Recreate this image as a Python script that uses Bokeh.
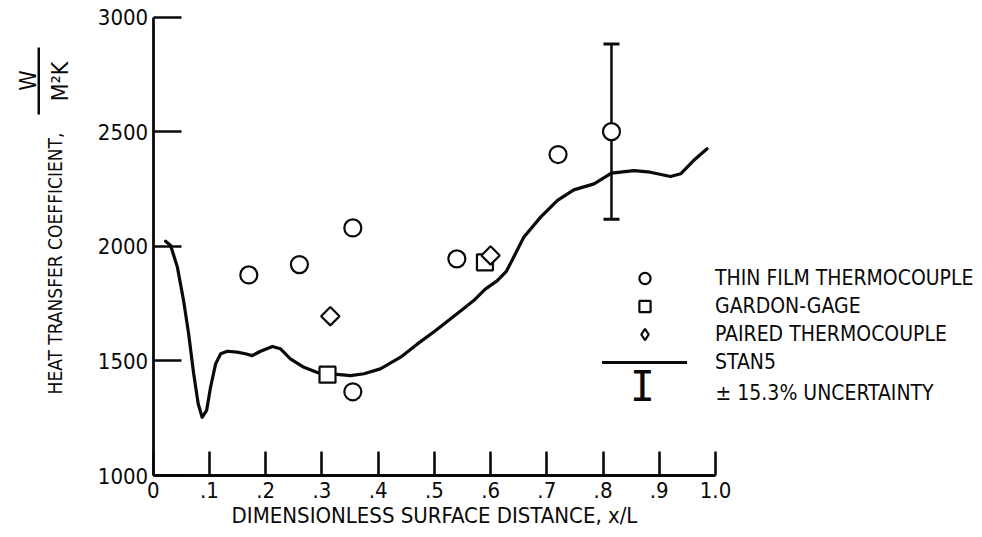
import math

from bokeh.embed import file_html
from bokeh.models import (ColumnDataSource, FixedTicker, Label, Legend, LegendItem,
                          PolyAnnotation, Range1d, TeeHead, Whisker)
from bokeh.plotting import figure
from bokeh.resources import INLINE

# --- data -------------------------------------------------------------------
# STAN5 prediction along the surface
x_stan5 = [0.022, 0.031, 0.043, 0.054, 0.063, 0.072, 0.080, 0.087, 0.095, 0.102,
           0.111, 0.120, 0.132, 0.149, 0.164, 0.176, 0.191, 0.212, 0.226, 0.244,
           0.268, 0.292, 0.309, 0.327, 0.351, 0.375, 0.404, 0.440, 0.470, 0.500,
           0.529, 0.550, 0.570, 0.590, 0.612, 0.628, 0.641, 0.659, 0.689, 0.719,
           0.748, 0.784, 0.815, 0.855, 0.884, 0.920, 0.938, 0.961, 0.985]
h_stan5 = [2022, 2003, 1909, 1763, 1618, 1444, 1313, 1254, 1284, 1385,
           1487, 1531, 1542, 1538, 1531, 1523, 1542, 1563, 1553, 1509,
           1472, 1449, 1444, 1441, 1436, 1444, 1465, 1516, 1574, 1628,
           1684, 1724, 1763, 1812, 1850, 1890, 1952, 2039, 2127, 2200,
           2246, 2272, 2319, 2330, 2323, 2304, 2316, 2374, 2425]

# measurements
x_thin_film = [0.17, 0.26, 0.355, 0.355, 0.54, 0.72, 0.815]
h_thin_film = [1875, 1920, 2080, 1365, 1945, 2400, 2500]

x_gardon = [0.31, 0.59]
h_gardon = [1440, 1930]

x_paired = [0.315, 0.60]
h_paired = [1695, 1960]

# uncertainty bar on one thin-film reading
x_unc = [0.815]
h_unc = [2500]
unc_pct = 15.3

x_ticks = [0, 0.1, 0.2, 0.3, 0.4, 0.5, 0.6, 0.7, 0.8, 0.9, 1.0]
x_tick_labels = ["0", ".1", ".2", ".3", ".4", ".5", ".6", ".7", ".8", ".9", "1.0"]
y_ticks = [1000, 1500, 2000, 2500, 3000]

# --- canvas geometry ------------------------------------------------------------
W, H = 982, 537
ORIGIN_X, ORIGIN_Y = 152.7, 475.0      # canvas px of (0, 1000)
PX_PER_X = 562.3                        # px per unit x/L
PX_PER_Y = (475.0 - 16.5) / 2000.0      # px per W/m^2K

FONT = "DejaVu Sans Condensed"
INK = "#0a0a0a"

# the frame spans the whole canvas; the axes sit at fixed data locations
x_range = Range1d(-ORIGIN_X / PX_PER_X, (W - ORIGIN_X) / PX_PER_X)
y_range = Range1d(1000 - (H - ORIGIN_Y) / PX_PER_Y, 1000 + ORIGIN_Y / PX_PER_Y)

p = figure(width=W, height=H, output_backend="svg", toolbar_location=None,
           x_range=x_range, y_range=y_range,
           min_border=0, min_border_left=0, min_border_right=0,
           min_border_top=0, min_border_bottom=0)
p.outline_line_color = None
p.grid.visible = False
p.background_fill_color = "white"
p.border_fill_color = "white"

for ax in (p.xaxis[0], p.yaxis[0]):
    ax.axis_line_color = INK
    ax.axis_line_width = 2.8
    ax.major_tick_line_color = INK
    ax.major_tick_line_width = 2.6
    ax.major_tick_out = 0
    ax.minor_tick_in = 0
    ax.minor_tick_out = 0
    ax.major_label_text_font = FONT
    ax.major_label_text_font_size = "22px"
    ax.major_label_text_color = INK

xa = p.xaxis[0]
xa.fixed_location = 1000
xa.bounds = (0, 1.0)
xa.ticker = FixedTicker(ticks=x_ticks)
xa.major_label_overrides = {t: lab for t, lab in zip(x_ticks, x_tick_labels)}
xa.major_tick_in = 24
xa.major_label_standoff = 6
xa.axis_label = "DIMENSIONLESS SURFACE DISTANCE, x/L"
xa.axis_label_text_font = FONT
xa.axis_label_text_font_size = "22px"
xa.axis_label_text_font_style = "normal"
xa.axis_label_text_color = INK
xa.axis_label_standoff = 2

ya = p.yaxis[0]
ya.fixed_location = 0
ya.bounds = (1000, 3000)
ya.ticker = FixedTicker(ticks=y_ticks)
ya.major_tick_in = 28
ya.major_label_standoff = 5

# --- uncertainty bar ----------------------------------------------------------
unc_src = ColumnDataSource(data=dict(
    x=x_unc,
    upper=[h * (1 + unc_pct / 100) for h in h_unc],
    lower=[h * (1 - unc_pct / 100) for h in h_unc],
))
whisker = Whisker(source=unc_src, base="x", upper="upper", lower="lower",
                  dimension="height", line_color=INK, line_width=2.5, level="underlay",
                  upper_head=TeeHead(size=16, line_color=INK, line_width=3),
                  lower_head=TeeHead(size=16, line_color=INK, line_width=3))
p.add_layout(whisker)

# --- STAN5 curve and measurements --------------------------------------------
r_stan5 = p.line(x_stan5, h_stan5, line_color=INK, line_width=3.2,
                 line_join="round", line_cap="round")
r_thin = p.scatter(x_thin_film, h_thin_film, marker="circle", size=17,
                   fill_color="white", line_color=INK, line_width=2.2)
r_gardon = p.scatter(x_gardon, h_gardon, marker="square", size=16,
                     fill_color="white", line_color=INK, line_width=2.2)
# paired-thermocouple readings: squares turned on their corner
r_paired = p.scatter(x_paired, h_paired, marker="square", angle=math.pi / 4, size=13,
                     fill_color="white", line_color=INK, line_width=2.2)
# legend keys ignore marker angle, so the key uses the diamond marker
r_paired_key = p.scatter(x_paired, h_paired, marker="diamond", size=22,
                         fill_color="white", line_color=INK, line_width=2.2,
                         visible=False)

legend = Legend(items=[
    LegendItem(label="THIN FILM THERMOCOUPLE", renderers=[r_thin]),
    LegendItem(label="GARDON-GAGE", renderers=[r_gardon]),
    LegendItem(label="PAIRED THERMOCOUPLE", renderers=[r_paired_key]),
    LegendItem(label="STAN5", renderers=[r_stan5]),
], location=(602, H - 376))
legend.border_line_color = None
legend.background_fill_alpha = 0
legend.inactive_fill_alpha = 0
legend.padding = 0
legend.margin = 0
legend.glyph_width = 85
legend.glyph_height = 28
legend.spacing = 0
legend.label_standoff = 28
legend.label_height = 28
legend.label_text_font = FONT
legend.label_text_font_size = "21px"
legend.label_text_color = INK
p.add_layout(legend)

# uncertainty key below the legend
p.add_layout(Label(x=642, y=386, x_units="canvas", y_units="canvas", text="I",
                   text_font="DejaVu Sans Mono", text_font_size="42px",
                   text_align="center", text_baseline="middle", text_color=INK))
p.add_layout(Label(x=715, y=392, x_units="canvas", y_units="canvas",
                   text="\u00b1 15.3% UNCERTAINTY", text_font=FONT,
                   text_font_size="21px", text_align="left",
                   text_baseline="middle", text_color=INK))

# --- y-axis title with units fraction ------------------------------------------
p.add_layout(Label(x=54, y=263, x_units="canvas", y_units="canvas",
                   text="HEAT TRANSFER COEFFICIENT,", angle=math.pi / 2,
                   text_font=FONT, text_font_size="19px", text_align="center",
                   text_baseline="middle", text_color=INK))
p.add_layout(Label(x=27, y=80, x_units="canvas", y_units="canvas", text="W",
                   angle=math.pi / 2, text_font=FONT, text_font_size="23px",
                   text_align="center", text_baseline="middle", text_color=INK))
p.add_layout(Label(x=59, y=81, x_units="canvas", y_units="canvas", text="M\u00b2K",
                   angle=math.pi / 2, text_font=FONT, text_font_size="23px",
                   text_align="center", text_baseline="middle", text_color=INK))
p.add_layout(PolyAnnotation(xs=[37, 39.5, 39.5, 37], ys=[47, 47, 114, 114],
                            xs_units="canvas", ys_units="canvas",
                            fill_color=INK, fill_alpha=1, line_color=None))

open("out.html", "w").write(file_html(p, INLINE))
